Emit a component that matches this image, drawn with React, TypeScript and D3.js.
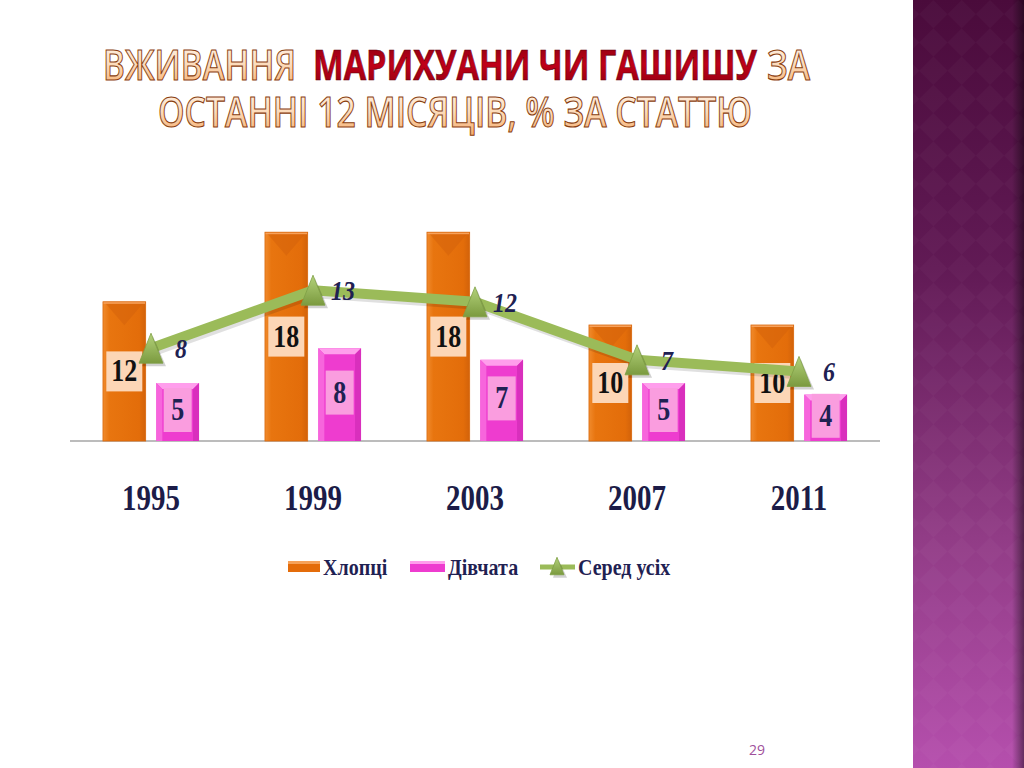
import React from "react";
import * as d3 from "d3";

const years = ["1995", "1999", "2003", "2007", "2011"];
const boys = [12, 18, 18, 10, 10];
const girls = [5, 8, 7, 5, 4];
const overall = [8, 13, 12, 7, 6];
const seriesNames = ["Хлопці", "Дівчата", "Серед усіх"];
const titleLine1 = ["ВЖИВАННЯ", "МАРИХУАНИ ЧИ ГАШИШУ", "ЗА"];
const titleLine2 = "ОСТАННІ 12 МІСЯЦІВ, % ЗА СТАТТЮ";
const pageNumber = "29";

const W = 1024;
const H = 768;
const serif = "'Liberation Serif', 'Times New Roman', serif";
const sans = "'Open Sans', 'Noto Sans', sans-serif";
const navy = "#1f2152";

function Triangle({ cx, cy, size }: { cx: number; cy: number; size: number }) {
    const h = size * 1.25;
    return <g>
        <path d={`M${cx + 2},${cy - h / 2 + 3}L${cx + size / 2 + 3},${cy + h / 2 + 3}L${cx - size / 2 + 3},${cy + h / 2 + 3}Z`}
            fill="#000" opacity={0.18} />
        <path d={`M${cx},${cy - h / 2}L${cx + size / 2},${cy + h / 2}L${cx - size / 2},${cy + h / 2}Z`}
            fill="url(#triGrad)" stroke="#7f9f45" strokeWidth={0.8} />
    </g>;
}

function OrangeBar({ x, y, w, h }: { x: number; y: number; w: number; h: number }) {
    const v = Math.min(w * 0.55, h);
    return <g>
        <rect x={x} y={y} width={w} height={h} fill="url(#orangeGrad)" />
        <path d={`M${x + 2},${y + 1}L${x + w - 2},${y + 1}L${x + w / 2},${y + v}Z`} fill="#d0600a" opacity={0.45} />
        <rect x={x} y={y} width={w} height={2} fill="#f7a15a" />
        <rect x={x} y={y} width={w} height={h} fill="none" stroke="#d9680c" strokeWidth={0.8} />
    </g>;
}

function PinkBar({ x, y, w, h }: { x: number; y: number; w: number; h: number }) {
    const b = 6;
    return <g>
        <rect x={x} y={y} width={w} height={h} fill="#ee3ccf" />
        <path d={`M${x},${y}L${x + w},${y}L${x + w - b},${y + b}L${x + b},${y + b}Z`} fill="#ff9eec" />
        <path d={`M${x},${y}L${x + b},${y + b}L${x + b},${y + h}L${x},${y + h}Z`} fill="#f765dc" />
        <path d={`M${x + w},${y}L${x + w - b},${y + b}L${x + w - b},${y + h}L${x + w},${y + h}Z`} fill="#d92fbd" />
    </g>;
}

export default function App() {
    const plotLeft = 70;
    const plotRight = 880;
    const baseY = 441;

    const x0 = d3.scaleBand<string>().domain(years).range([plotLeft, plotRight])
        .paddingInner(0.407).paddingOuter(0.2035);
    const x1 = d3.scaleBand<string>().domain(["boys", "girls"]).range([0, x0.bandwidth()]).paddingInner(0.2);
    const y = d3.scaleLinear().domain([0, 20]).range([baseY, baseY - 232]);

    const linePts: [number, number][] = overall.map((v, i) => [x0(years[i])! + x0.bandwidth() / 2, y(v)]);
    const line = d3.line();

    const legendX = [288, 410, 540];
    // title segment extents on line 1
    const t1 = [[103, 296], [313, 757], [767, 810]];

    return <svg width={W} height={H} style={{ position: "absolute", left: 0, top: 0, background: "#fff" }}>
        <defs>
            <linearGradient id="panelGrad" x1="0" y1="0" x2="0" y2="1">
                <stop offset="0" stopColor="#4a0b3b" />
                <stop offset="0.35" stopColor="#611a55" />
                <stop offset="0.7" stopColor="#913c86" />
                <stop offset="1" stopColor="#b54fad" />
            </linearGradient>
            <linearGradient id="panelEdge" x1="0" y1="0" x2="1" y2="0">
                <stop offset="0" stopColor="#000" stopOpacity={0} />
                <stop offset="1" stopColor="#000" stopOpacity={0.45} />
            </linearGradient>
            <pattern id="diamonds" width="40" height="40" patternUnits="userSpaceOnUse" patternTransform="rotate(45)">
                <rect width="20" height="20" fill="#fff" opacity={0.025} />
                <rect x="20" y="20" width="20" height="20" fill="#fff" opacity={0.025} />
            </pattern>
            <linearGradient id="orangeGrad" x1="0" y1="0" x2="1" y2="0">
                <stop offset="0" stopColor="#f08a2c" />
                <stop offset="0.15" stopColor="#e8750f" />
                <stop offset="0.85" stopColor="#e36d0a" />
                <stop offset="1" stopColor="#d2620a" />
            </linearGradient>
            <linearGradient id="triGrad" x1="0" y1="0" x2="0" y2="1">
                <stop offset="0" stopColor="#b3d27a" />
                <stop offset="1" stopColor="#7b9a3f" />
            </linearGradient>
            <linearGradient id="titleGrad" x1="0" y1="0" x2="0" y2="1">
                <stop offset="0" stopColor="#fff8f2" />
                <stop offset="0.5" stopColor="#fcdcbd" />
                <stop offset="1" stopColor="#f4a560" />
            </linearGradient>
            <linearGradient id="redGrad" x1="0" y1="0" x2="0" y2="1">
                <stop offset="0" stopColor="#7a0010" />
                <stop offset="0.5" stopColor="#c00018" />
                <stop offset="1" stopColor="#8a0010" />
            </linearGradient>
        </defs>

        {/* side panel */}
        <rect x={913} y={0} width={W - 913} height={H} fill="url(#panelGrad)" />
        <rect x={913} y={0} width={W - 913} height={H} fill="url(#diamonds)" />
        <rect x={1012} y={0} width={12} height={H} fill="url(#panelEdge)" />

        {/* title */}
        <g fontFamily={sans} fontWeight={600} fontSize={41} textAnchor="middle">
            {titleLine1.map((s, i) => <text key={s} x={(t1[i][0] + t1[i][1]) / 2} y={80}
                textLength={t1[i][1] - t1[i][0]} lengthAdjust="spacingAndGlyphs"
                fill={i === 1 ? "url(#redGrad)" : "url(#titleGrad)"}
                stroke={i === 1 ? "#5a0008" : "#8a3f10"} strokeWidth={i === 1 ? 0.6 : 1.1}
                fontWeight={i === 1 ? 700 : 600}>{s}</text>)}
            <text x={455} y={127} textLength={594} lengthAdjust="spacingAndGlyphs"
                stroke="#8a3f10" strokeWidth={1.1} fill="url(#titleGrad)">{titleLine2}</text>
        </g>

        {/* axis line */}
        <line x1={plotLeft} x2={plotRight} y1={baseY} y2={baseY} stroke="#a6a6a6" strokeWidth={1.5} />

        {/* bars */}
        {years.map((yr, i) => {
            const bx = x0(yr)! + x1("boys")!;
            const gx = x0(yr)! + x1("girls")!;
            const bw = x1.bandwidth();
            return <g key={yr}>
                <OrangeBar x={bx} y={y(boys[i])} w={bw} h={baseY - y(boys[i])} />
                <PinkBar x={gx} y={y(girls[i])} w={bw} h={baseY - y(girls[i])} />
            </g>;
        })}

        {/* bar labels */}
        {years.map((yr, i) => {
            const bx = x0(yr)! + x1("boys")! + x1.bandwidth() / 2;
            const gx = x0(yr)! + x1("girls")! + x1.bandwidth() / 2;
            const by = (y(boys[i]) + baseY) / 2;
            const gy = (y(girls[i]) + baseY) / 2 - 2;
            const bwBox = String(boys[i]).length > 1 ? 36 : 26;
            return <g key={yr}>
                <rect x={bx - bwBox / 2} y={by - 20} width={bwBox} height={40} fill="#fcd6b6" />
                <text transform={`translate(${bx},${by + 10}) scale(1,1.2)`} textAnchor="middle"
                    fontFamily={serif} fontWeight={700} fontSize={26} fill="#111">{boys[i]}</text>
                <rect x={gx - 14} y={gy - 22} width={28} height={44} fill="#fa9ddf" />
                <text transform={`translate(${gx},${gy + 10}) scale(1,1.2)`} textAnchor="middle"
                    fontFamily={serif} fontWeight={700} fontSize={26} fill={navy}>{girls[i]}</text>
            </g>;
        })}

        {/* overall line */}
        <path d={line(linePts)!} fill="none" stroke="#000" strokeOpacity={0.12} strokeWidth={10}
            transform="translate(2,3)" strokeLinejoin="round" />
        <path d={line(linePts)!} fill="none" stroke="#9bbb59" strokeWidth={10} strokeLinejoin="round" />
        {linePts.map(([px, py], i) => <g key={i}>
            <Triangle cx={px} cy={py} size={24} />
            <text transform={`translate(${px + 30},${py + 10}) scale(1,1.15)`} textAnchor="middle"
                fontFamily={serif} fontStyle="italic" fontWeight={700} fontSize={24} fill={navy}>{overall[i]}</text>
        </g>)}

        {/* category labels */}
        {years.map((yr) => <text key={yr}
            transform={`translate(${x0(yr)! + x0.bandwidth() / 2},${510}) scale(1,1.22)`}
            textAnchor="middle" fontFamily={serif} fontWeight={700} fontSize={29} fill="#1c1c48">{yr}</text>)}

        {/* legend */}
        <g>
            <rect x={legendX[0]} y={561} width={32} height={11} fill="#e46c0a" />
            <rect x={legendX[0]} y={561} width={32} height={3} fill="#f6a25a" />
            <rect x={legendX[1]} y={561} width={35} height={11} fill="#ee3ccf" />
            <rect x={legendX[1]} y={561} width={35} height={3} fill="#ff9eec" />
            <line x1={legendX[2]} x2={legendX[2] + 35} y1={567} y2={567} stroke="#9bbb59" strokeWidth={5} />
            <Triangle cx={legendX[2] + 17} cy={566} size={14} />
            {seriesNames.map((s, i) => <text key={s}
                transform={`translate(${legendX[i] + (i === 0 ? 35 : 38)},${575}) scale(1,1.2)`}
                fontFamily={serif} fontWeight={700} fontSize={20} fill={navy}>{s}</text>)}
        </g>

        <text x={757} y={755} textAnchor="middle" fontFamily={sans} fontSize={14} fill="#a0509b">{pageNumber}</text>
    </svg>;
}
